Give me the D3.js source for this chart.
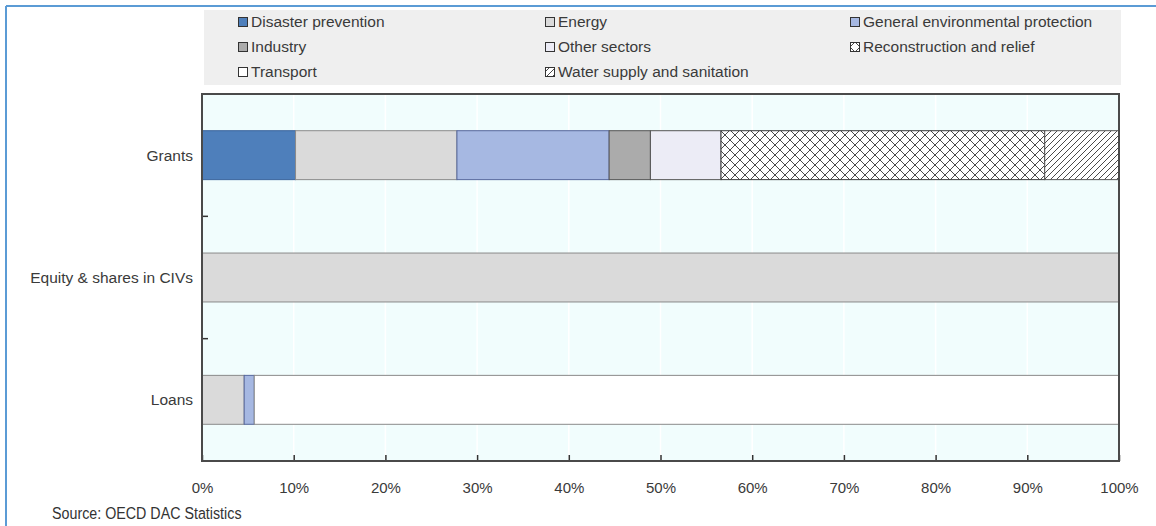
<!DOCTYPE html>
<html>
<head>
<meta charset="utf-8">
<script src="https://cdn.jsdelivr.net/npm/d3@7"></script>
<style>
  body { margin: 0; background: #fff; }
  text { font-family: "Liberation Sans", Arial, sans-serif; }
</style>
</head>
<body>
<div id="chart"></div>
<script>
// data (shares in %)
var categories = ["Grants", "Equity & shares in CIVs", "Loans"];
var sectors = ["Disaster prevention", "Energy", "General environmental protection",
  "Industry", "Other sectors", "Reconstruction and relief",
  "Transport", "Water supply and sanitation"];
var disasterPrevention = [10.2, 0, 0];
var energy = [17.6, 100, 4.6];
var generalEnvironment = [16.6, 0, 1.1];
var industry = [4.5, 0, 0];
var otherSectors = [7.7, 0, 0];
var reconstruction = [35.3, 0, 0];
var transport = [0, 0, 94.3];
var waterSupply = [8.1, 0, 0];
var xTicks = [0, 10, 20, 30, 40, 50, 60, 70, 80, 90, 100];
var sourceNote = "Source: OECD DAC Statistics";

var seriesValues = [disasterPrevention, energy, generalEnvironment, industry,
  otherSectors, reconstruction, transport, waterSupply];

// table for d3.stack
var rows = categories.map(function(c, i) {
  var r = { category: c };
  sectors.forEach(function(s, j) { r[s] = seriesValues[j][i]; });
  return r;
});

var fills = ["#4e7fbb", "#dadada", "#a6b8e2", "#ababab", "#ececf6",
  "url(#crossHatch)", "#ffffff", "url(#diagHatch)"];
var strokes = ["#3a649c", "#8a8a8a", "#56679c", "#555", "#555",
  "#3a3a3a", "#8a8a8a", "#555"];

var svgWidth = 1156;
var svgHeight = 526;

var plot = { left: 202, top: 94, right: 1119, bottom: 461 };

var svg = d3.select("#chart")
  .append("svg")
  .attr("width", svgWidth)
  .attr("height", svgHeight);

var defs = svg.append("defs");

var cross = defs.append("pattern")
  .attr("id", "crossHatch")
  .attr("patternUnits", "userSpaceOnUse")
  .attr("width", 10).attr("height", 10);
cross.append("rect").attr("width", 10).attr("height", 10).attr("fill", "#fff");
cross.append("path")
  .attr("d", "M0,0L10,10M10,0L0,10")
  .attr("stroke", "#4a4a4a").attr("stroke-width", 1);

var diag = defs.append("pattern")
  .attr("id", "diagHatch")
  .attr("patternUnits", "userSpaceOnUse")
  .attr("width", 6).attr("height", 6);
diag.append("rect").attr("width", 6).attr("height", 6).attr("fill", "#fff");
diag.append("path")
  .attr("d", "M-1,1L1,-1M0,6L6,0M5,7L7,5")
  .attr("stroke", "#4a4a4a").attr("stroke-width", 1);

// blue frame lines of the page
svg.append("line")
  .attr("x1", 6).attr("y1", 6).attr("x2", svgWidth).attr("y2", 6)
  .attr("stroke", "#5b9bd5").attr("stroke-width", 2);
svg.append("line")
  .attr("x1", 6).attr("y1", 6).attr("x2", 6).attr("y2", svgHeight)
  .attr("stroke", "#5b9bd5").attr("stroke-width", 2);

// legend
svg.append("rect")
  .attr("x", 204).attr("y", 10)
  .attr("width", 917).attr("height", 75)
  .attr("fill", "#efefef");

var legendCols = [238, 545, 850];
var legendRows = [22, 47, 72];

var legend = svg.selectAll(".legend-item")
  .data(sectors)
  .enter()
  .append("g")
  .attr("class", "legend-item")
  .attr("transform", function(d, i) {
    return "translate(" + legendCols[i % 3] + "," + legendRows[Math.floor(i / 3)] + ")";
  });

legend.append("rect")
  .attr("x", 0.5).attr("y", -4.5)
  .attr("width", 9).attr("height", 9)
  .attr("fill", function(d, i) { return fills[i]; })
  .attr("stroke", "#333")
  .attr("stroke-width", 1);

legend.append("text")
  .attr("x", 13)
  .attr("y", 0)
  .attr("dy", "0.35em")
  .attr("font-size", "15.5px")
  .attr("fill", "#3a3a3a")
  .text(function(d) { return d; });

// scales
var x = d3.scaleLinear()
  .domain([0, 100])
  .range([plot.left, plot.right]);

var y = d3.scaleBand()
  .domain(categories)
  .range([plot.top, plot.bottom])
  .paddingInner(0.6)
  .paddingOuter(0.3);

// plot background and grid
svg.append("rect")
  .attr("x", plot.left).attr("y", plot.top)
  .attr("width", plot.right - plot.left)
  .attr("height", plot.bottom - plot.top)
  .attr("fill", "#f1fdfd");

svg.append("g")
  .selectAll("line")
  .data(xTicks.slice(1, -1))
  .enter()
  .append("line")
  .attr("x1", d => x(d)).attr("x2", d => x(d))
  .attr("y1", plot.top).attr("y2", plot.bottom)
  .attr("stroke", "#ffffff")
  .attr("stroke-width", 1.5);

// stacked bars
var stacked = d3.stack().keys(sectors)(rows);

svg.append("g")
  .selectAll("g")
  .data(stacked)
  .enter()
  .append("g")
  .attr("fill", (d, i) => fills[i])
  .attr("stroke", (d, i) => strokes[i])
  .selectAll("rect")
  .data(d => d.filter(p => p[1] - p[0] > 0))
  .enter()
  .append("rect")
  .attr("x", d => x(d[0]))
  .attr("y", d => y(d.data.category))
  .attr("width", d => x(d[1]) - x(d[0]))
  .attr("height", y.bandwidth())
  .attr("stroke-width", 1);

// x axis, ticks pointing inward
var xAxis = d3.axisBottom(x)
  .tickValues(xTicks)
  .tickFormat(d => d + "%")
  .tickSize(-6)
  .tickPadding(21);

var xg = svg.append("g")
  .attr("transform", "translate(0," + plot.bottom + ")")
  .call(xAxis);
xg.select(".domain").remove();
xg.selectAll("line").attr("stroke", "#333").attr("stroke-width", 1.5);
xg.selectAll("text")
  .attr("font-size", "15px")
  .attr("font-family", "'Liberation Sans', Arial, sans-serif")
  .attr("fill", "#3a3a3a");

// y category labels
svg.append("g")
  .selectAll("text")
  .data(categories)
  .enter()
  .append("text")
  .attr("x", 193)
  .attr("y", d => y(d) + y.bandwidth() / 2)
  .attr("dy", "0.35em")
  .attr("text-anchor", "end")
  .attr("font-size", "15.5px")
  .attr("fill", "#3a3a3a")
  .text(d => d);

// y ticks at band boundaries
var boundaries = categories.slice(0, -1).map(function(c) {
  return y(c) + y.bandwidth() + (y.step() - y.bandwidth()) / 2;
});
svg.append("g")
  .selectAll("line")
  .data(boundaries)
  .enter()
  .append("line")
  .attr("x1", plot.left).attr("x2", plot.left + 6)
  .attr("y1", d => d).attr("y2", d => d)
  .attr("stroke", "#333")
  .attr("stroke-width", 1.5);

// plot frame
svg.append("rect")
  .attr("x", plot.left).attr("y", plot.top)
  .attr("width", plot.right - plot.left)
  .attr("height", plot.bottom - plot.top)
  .attr("fill", "none")
  .attr("stroke", "#4a4a4a")
  .attr("stroke-width", 2);

// source note (condensed look in the original)
svg.append("text")
  .attr("transform", "translate(52,513) scale(0.84,1)")
  .attr("dy", "0.35em")
  .attr("font-family", "Roboto, sans-serif")
  .attr("font-size", "17px")
  .attr("fill", "#333")
  .text(sourceNote);
</script>
</body>
</html>
